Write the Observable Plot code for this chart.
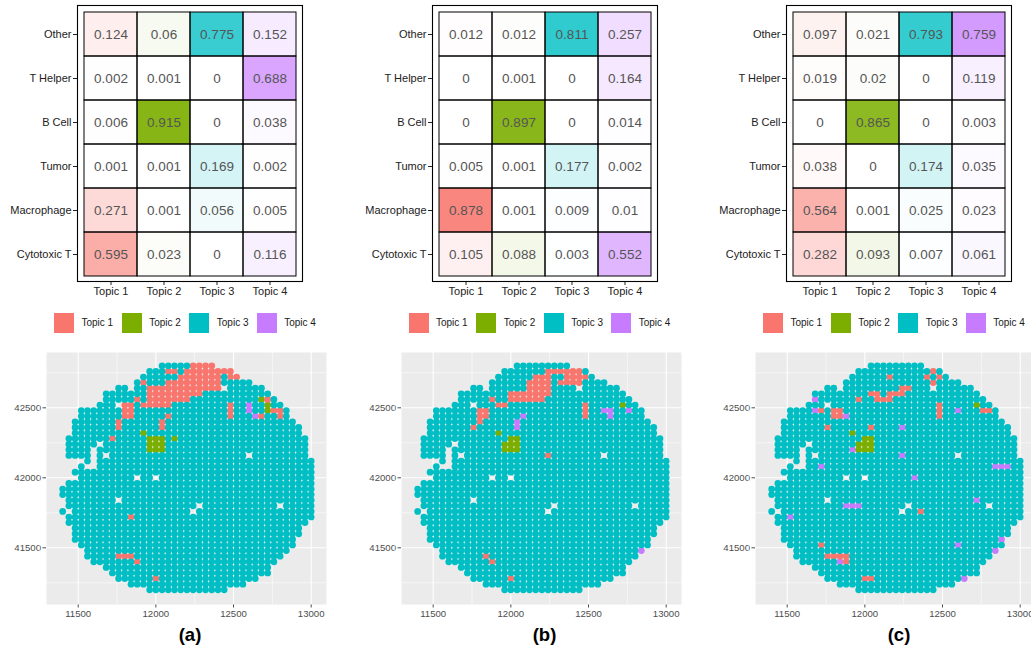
<!DOCTYPE html>
<html>
<head>
<meta charset="utf-8">
<script src="https://cdn.jsdelivr.net/npm/d3@7"></script>
<script src="https://cdn.jsdelivr.net/npm/@observablehq/plot@0.6"></script>
<style>
  html, body { margin: 0; padding: 0; background: #fff; }
  #root { position: relative; width: 1031px; height: 650px; overflow: hidden; background: #fff;
          font-family: 'Liberation Sans', Arial, Helvetica, sans-serif; }
  .abs { position: absolute; }
  .key { position: absolute; width: 20px; height: 20px; }
  .klab { position: absolute; font-size: 10px; color: #1a1a1a; line-height: 12px; }
  .cap { position: absolute; font-size: 18.5px; font-weight: bold; color: #000; transform: translateX(-50%); }
</style>
</head>
<body>
<div id="root"></div>
<script>
// ---------------- data ----------------
const topics = ["Topic 1", "Topic 2", "Topic 3", "Topic 4"];
const topicColors = ["#F8766D", "#7CAE00", "#00BFC4", "#C77CFF"];
const cellTypes = ["Other", "T Helper", "B Cell", "Tumor", "Macrophage", "Cytotoxic T"];
const panelLabels = ["(a)", "(b)", "(c)"];

// heatmap values: rows = cellTypes, columns = topics
const valuesA = [
  [0.124, 0.06, 0.775, 0.152],
  [0.002, 0.001, 0, 0.688],
  [0.006, 0.915, 0, 0.038],
  [0.001, 0.001, 0.169, 0.002],
  [0.271, 0.001, 0.056, 0.005],
  [0.595, 0.023, 0, 0.116]
];
const valuesB = [
  [0.012, 0.012, 0.811, 0.257],
  [0, 0.001, 0, 0.164],
  [0, 0.897, 0, 0.014],
  [0.005, 0.001, 0.177, 0.002],
  [0.878, 0.001, 0.009, 0.01],
  [0.105, 0.088, 0.003, 0.552]
];
const valuesC = [
  [0.097, 0.021, 0.793, 0.759],
  [0.019, 0.02, 0, 0.119],
  [0, 0.865, 0, 0.003],
  [0.038, 0, 0.174, 0.035],
  [0.564, 0.001, 0.025, 0.023],
  [0.282, 0.093, 0.007, 0.061]
];

// spatial spot grid (column x positions, row y positions)
const colX = [11400, 11440, 11480, 11520, 11560, 11600, 11640, 11680, 11720, 11760, 11800,
  11840, 11880, 11920, 11960, 12000, 12040, 12080, 12120, 12160, 12200, 12240, 12280, 12320,
  12360, 12400, 12440, 12480, 12520, 12560, 12600, 12640, 12680, 12720, 12760, 12800, 12840,
  12880, 12920, 12960, 13000];
const rowY = [41200, 41240, 41280, 41320, 41360, 41400, 41440, 41480, 41520, 41560, 41600,
  41640, 41680, 41720, 41760, 41800, 41840, 41880, 41920, 41960, 42000, 42040, 42080, 42120,
  42160, 42200, 42240, 42280, 42320, 42360, 42400, 42440, 42480, 42520, 42560, 42600, 42640,
  42680, 42720, 42760, 42800];
// first / last occupied column index for each row (row 0 = bottom)
const rowStart = [14, 11, 9, 8, 7, 5, 4, 4, 3, 2, 2, 2, 1, 1, 0, 1, 1, 0, 0, 1, 3, 2, 3, 4, 1,
  1, 1, 1, 2, 2, 2, 3, 3, 6, 7, 7, 9, 12, 13, 14, 16];
const rowEnd = [26, 29, 31, 33, 33, 34, 35, 36, 37, 37, 38, 38, 39, 40, 40, 40, 40, 40, 40, 40,
  40, 40, 40, 40, 39, 39, 39, 39, 38, 38, 37, 36, 36, 35, 34, 33, 32, 30, 28, 27, 24];
// empty spots inside the tissue [col, row]
const missingSpots = [[1, 14], [21, 14], [22, 15], [35, 15], [9, 16], [12, 20], [15, 20],
  [4, 22], [5, 22], [5, 23], [5, 24], [7, 24], [30, 24], [5, 25], [6, 26], [9, 33], [11, 36], [26, 36]];

// non Topic-3 spots: runs [firstCol, lastCol, row, topic]
const runsA = [
  [21, 24, 40, 1], [17, 18, 39, 1], [20, 27, 39, 1], [19, 25, 38, 1], [27, 28, 38, 1],
  [13, 13, 37, 1], [17, 25, 37, 1], [14, 25, 36, 1], [14, 22, 35, 1], [12, 12, 34, 1],
  [14, 20, 34, 1], [10, 11, 33, 1], [13, 17, 33, 1], [10, 11, 32, 1], [10, 11, 31, 1],
  [17, 17, 31, 1], [9, 9, 30, 1], [16, 16, 30, 1], [9, 9, 29, 1], [16, 16, 29, 1], [8, 8, 27, 1],
  [27, 27, 31, 1], [27, 27, 32, 1], [27, 27, 33, 1], [33, 33, 34, 1], [32, 32, 31, 1],
  [34, 35, 32, 1], [35, 35, 31, 1], [11, 11, 13, 1], [9, 11, 6, 1], [12, 12, 5, 1], [15, 15, 2, 1],
  [13, 13, 28, 2], [14, 16, 27, 2], [14, 16, 26, 2], [14, 16, 25, 2], [18, 18, 27, 2],
  [32, 32, 34, 2], [33, 33, 33, 2], [33, 33, 32, 2],
  [30, 30, 32, 4], [30, 30, 33, 4], [31, 31, 31, 4]
];
const runsB = [
  [21, 26, 39, 1], [19, 21, 38, 1], [24, 27, 38, 1], [18, 21, 37, 1], [23, 26, 37, 1],
  [18, 21, 36, 1], [15, 21, 35, 1], [12, 12, 34, 1], [15, 20, 34, 1], [13, 14, 33, 1],
  [10, 11, 32, 1], [10, 11, 31, 1], [10, 10, 30, 1], [9, 9, 29, 1], [27, 27, 31, 1],
  [27, 27, 32, 1], [27, 27, 33, 1], [21, 21, 24, 1], [11, 11, 6, 1], [12, 12, 5, 1], [15, 15, 2, 1],
  [13, 13, 28, 2], [15, 16, 27, 2], [14, 16, 26, 2], [14, 16, 25, 2], [33, 33, 33, 2],
  [17, 17, 31, 4], [16, 16, 30, 4], [16, 16, 29, 4], [30, 31, 32, 4], [31, 31, 31, 4],
  [34, 34, 32, 4], [36, 36, 7, 4]
];
const runsC = [
  [26, 26, 39, 1], [19, 19, 38, 1], [25, 25, 38, 1], [27, 27, 38, 1], [26, 26, 37, 1],
  [21, 22, 36, 1], [16, 17, 35, 1], [19, 21, 35, 1], [14, 14, 34, 1], [17, 19, 34, 1],
  [8, 8, 32, 1], [10, 11, 32, 1], [10, 11, 31, 1], [9, 9, 29, 1], [16, 16, 29, 1],
  [27, 27, 31, 1], [27, 27, 32, 1], [27, 27, 33, 1], [34, 35, 32, 1], [24, 24, 14, 1],
  [8, 8, 8, 1], [9, 12, 6, 1], [12, 12, 5, 1], [15, 16, 2, 1],
  [13, 13, 28, 2], [15, 16, 27, 2], [14, 16, 26, 2], [14, 16, 25, 2], [33, 33, 33, 2],
  [7, 7, 34, 4], [7, 7, 32, 4], [12, 12, 31, 4], [13, 13, 25, 4], [8, 8, 22, 4], [12, 14, 15, 4],
  [3, 3, 13, 4], [11, 11, 5, 4], [30, 30, 32, 4], [21, 21, 29, 4], [21, 21, 24, 4],
  [36, 38, 22, 4], [23, 23, 20, 4], [33, 33, 16, 4], [30, 30, 8, 4], [37, 37, 9, 4],
  [36, 36, 7, 4], [31, 31, 2, 4]
];

const xMajor = [11500, 12000, 12500, 13000];
const xMinor = [11250, 11750, 12250, 12750];
const yMajor = [41500, 42000, 42500];
const yMinor = [41250, 41750, 42250, 42750];

// ---------------- helpers ----------------
const FONT = "'Liberation Sans', Arial, Helvetica, sans-serif";
const root = document.getElementById("root");
const panelOffsets = [0, 354.5, 709];

function place(el, left, top) {
  el.style.position = "absolute";
  el.style.left = left + "px";
  el.style.top = top + "px";
  root.appendChild(el);
}

function heatmap(values) {
  const data = [];
  cellTypes.forEach((ct, r) => topics.forEach((tp, c) => data.push({type: ct, topic: tp, value: values[r][c]})));
  const maxV = d3.max(data, d => d.value);
  return Plot.plot({
    width: 340, height: 305,
    marginLeft: 77, marginRight: 38, marginTop: 5, marginBottom: 24,
    style: {fontFamily: FONT, fontSize: "11px", color: "#222", background: "transparent"},
    x: {domain: topics, padding: 0, insetLeft: 5, insetRight: 5, label: null, tickSize: 4, tickPadding: 2},
    y: {domain: cellTypes, padding: 0, insetTop: 5, insetBottom: 4, label: null, tickSize: 4, tickPadding: 2},
    color: {domain: topics, range: topicColors},
    opacity: {type: "linear", domain: [0, maxV], range: [0, 1]},
    marks: [
      Plot.cell(data, {x: "topic", y: "type", fill: "#fff"}),
      Plot.cell(data, {x: "topic", y: "type", fill: "topic", fillOpacity: "value"}),
      Plot.cell(data, {x: "topic", y: "type", fill: "none", stroke: "#000", strokeWidth: 1}),
      Plot.text(data, {x: "topic", y: "type", text: d => String(d.value), fill: "#555", fontSize: 13.5}),
      Plot.frame({stroke: "#000", strokeWidth: 1.1})
    ]
  });
}

function buildSpots(runs) {
  const colored = new Map();
  for (const [a, b, j, t] of runs) for (let i = a; i <= b; i++) colored.set(i + "," + j, t);
  const missing = new Set(missingSpots.map(([i, j]) => i + "," + j));
  const teal = [], other = [];
  for (let j = 0; j < rowY.length; j++) {
    for (let i = rowStart[j]; i <= rowEnd[j]; i++) {
      const k = i + "," + j;
      if (colored.has(k)) { other.push({x: colX[i], y: rowY[j], topic: topics[colored.get(k) - 1]}); continue; }
      if (missing.has(k)) continue;
      teal.push({x: colX[i], y: rowY[j], topic: topics[2]});
    }
  }
  for (const [k, t] of colored) {
    const [i, j] = k.split(",").map(Number);
    if (i < rowStart[j] || i > rowEnd[j]) other.push({x: colX[i], y: rowY[j], topic: topics[t - 1]});
  }
  return {teal, other};
}

function spatial(runs) {
  const {teal, other} = buildSpots(runs);
  return Plot.plot({
    width: 330, height: 280,
    marginLeft: 46, marginRight: 4, marginTop: 7, marginBottom: 21,
    style: {fontFamily: FONT, fontSize: "9.6px", color: "#4d4d4d", background: "transparent"},
    x: {domain: [11296, 13098.6], ticks: xMajor, tickFormat: d => String(d), label: null, tickSize: 3.5, tickPadding: 2},
    y: {domain: [41095, 42895], ticks: yMajor, tickFormat: d => String(d), label: null, tickSize: 3.5, tickPadding: 2},
    color: {domain: topics, range: topicColors},
    marks: [
      Plot.frame({fill: "#EBEBEB", stroke: null}),
      Plot.ruleX(xMinor, {stroke: "#fff", strokeWidth: 0.55}),
      Plot.ruleY(yMinor, {stroke: "#fff", strokeWidth: 0.55}),
      Plot.ruleX(xMajor, {stroke: "#fff", strokeWidth: 1.1}),
      Plot.ruleY(yMajor, {stroke: "#fff", strokeWidth: 1.1}),
      Plot.dot(other, {x: "x", y: "y", fill: "topic", r: 3.35}),
      Plot.dot(teal, {x: "x", y: "y", fill: "topic", r: 3.35})
    ]
  });
}

function legend(dx) {
  const keyX = [54, 121.7, 189.3, 256.7];
  topics.forEach((t, k) => {
    const sq = document.createElement("div");
    sq.className = "key";
    sq.style.background = topicColors[k];
    sq.style.left = (dx + keyX[k]) + "px";
    sq.style.top = "312.5px";
    root.appendChild(sq);
    const lab = document.createElement("div");
    lab.className = "klab";
    lab.textContent = t;
    lab.style.left = (dx + keyX[k] + 27.5) + "px";
    lab.style.top = "316.5px";
    root.appendChild(lab);
  });
}

const allValues = [valuesA, valuesB, valuesC];
const allRuns = [runsA, runsB, runsC];
for (let p = 0; p < 3; p++) {
  const dx = panelOffsets[p];
  place(heatmap(allValues[p]), dx, 0);
  legend(dx);
  place(spatial(allRuns[p]), dx, 345);
  const cap = document.createElement("div");
  cap.className = "cap";
  cap.textContent = panelLabels[p];
  cap.style.left = (dx + 190) + "px";
  cap.style.top = "624px";
  root.appendChild(cap);
}
</script>
</body>
</html>
